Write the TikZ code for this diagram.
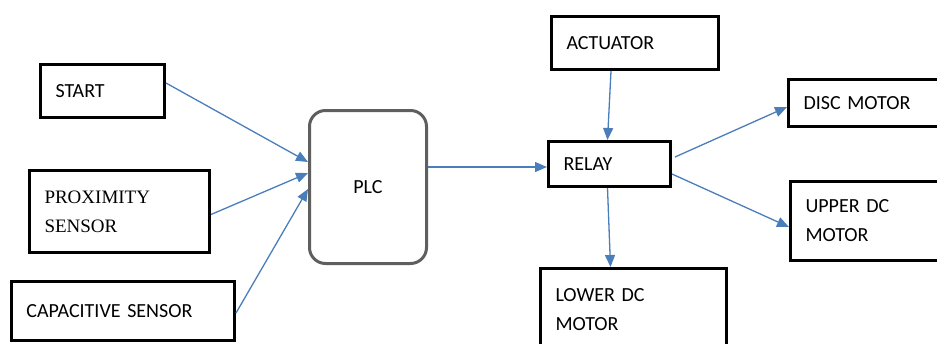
\documentclass[tikz,border=0pt]{standalone}
\usepackage{fontspec}
\setmainfont{Carlito}
\newfontfamily\proxfont{Liberation Serif}
\usetikzlibrary{arrows.meta,calc}
\definecolor{arrowblue}{HTML}{4A7EBB}
\definecolor{plcgray}{HTML}{5F5F5F}
\begin{document}
\begin{tikzpicture}[x=1pt,y=-1pt,
  bx/.style={draw=black,line width=3pt,inner xsep=15pt,inner ysep=0pt,align=left,anchor=north west,
    font=\fontsize{20}{29}\selectfont},
  plcbox/.style={draw=plcgray,line width=3pt,rounded corners=16pt,anchor=north west,
    font=\fontsize{20}{29}\selectfont},
  conn/.style={draw=arrowblue,line width=1.3pt,-{Triangle[length=12pt,width=10pt,fill=arrowblue]}}]
\useasboundingbox (0,0) rectangle (937,343);
% input boxes
\node[bx,minimum width=124pt,minimum height=53pt,text width=94pt] (start) at (39,63) {START};
\node[bx,minimum width=180pt,minimum height=82pt,text width=150pt,font=\proxfont\fontsize{19}{29}\selectfont] (prox) at (28,169) {PROXIMITY\\SENSOR};
\node[bx,minimum width=223pt,minimum height=59pt,text width=193pt] (cap) at (10,280) {CAPACITIVE SENSOR};
% PLC
\node[plcbox,minimum width=117pt,minimum height=153pt] (plc) at (308,109) {PLC};
% right side
\node[bx,minimum width=167pt,minimum height=53pt,text width=137pt] (act) at (550,15) {ACTUATOR};
\node[bx,minimum width=122pt,minimum height=45pt,text width=92pt] (relay) at (547,140) {RELAY};
\node[bx,minimum width=180pt,minimum height=47pt,text width=150pt] (disc) at (787,78) {DISC MOTOR};
\node[bx,minimum width=180pt,minimum height=79pt,text width=150pt] (upper) at (789,180) {UPPER DC\\MOTOR};
\node[bx,minimum width=186pt,minimum height=82pt,text width=156pt] (lower) at (539,267) {LOWER DC\\MOTOR};
% connectors
\draw[conn] ([yshift=8pt]start.east) -- ([yshift=25pt]plc.west);
\draw[conn] ([yshift=-3pt]prox.east) -- ([yshift=14pt]plc.west);
\draw[conn] ([yshift=-2pt]cap.east) -- ([yshift=-2pt]plc.west);
\draw[conn] ([yshift=-3pt]relay.west -| plc.east) -- ([yshift=-3pt]relay.west);
\draw[conn] ([xshift=-24pt]act.south) -- ([xshift=-2pt]relay.north);
\draw[conn] ([xshift=3pt,yshift=7pt]relay.east) -- ([yshift=-4pt]disc.west);
\draw[conn] ([yshift=-10pt]relay.east) -- ([yshift=-6pt]upper.west);
\draw[conn] ([xshift=-2pt]relay.south) -- ([xshift=-23pt]lower.north);
\end{tikzpicture}
\end{document}
